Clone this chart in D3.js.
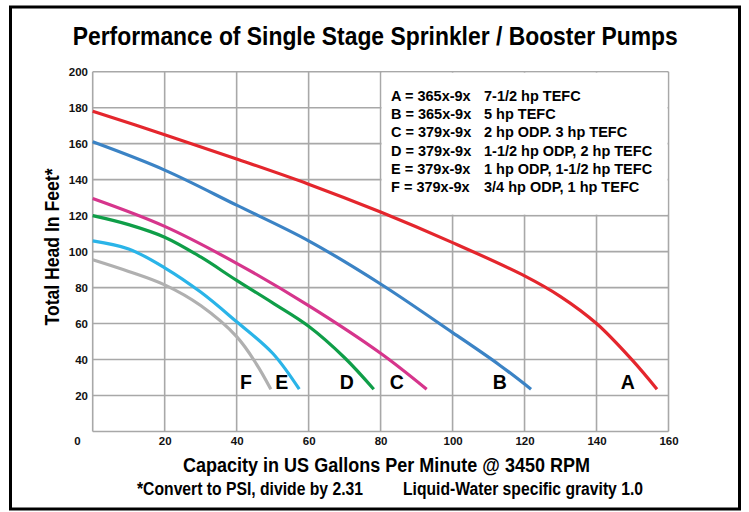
<!DOCTYPE html>
<html>
<head>
<meta charset="utf-8">
<script src="https://cdn.jsdelivr.net/npm/d3@7"></script>
<style>
  body { margin: 0; background: #fff; }
  text { font-family: "Liberation Sans", Arial, sans-serif; }
</style>
</head>
<body>
<script>
// curve readings (gpm, feet)
var capA = [0, 20, 40, 60, 80, 100, 120, 130, 140, 150, 156.8];
var headA = [178, 165, 151.5, 137.5, 122, 105, 86.5, 75, 60, 39.5, 23.5];
var capB = [0, 20, 40, 60, 80, 100, 113, 121.8];
var headB = [161, 145.3, 125.8, 106, 82, 55, 37, 23.5];
var capC = [0, 20, 40, 60, 80, 92.8];
var headC = [129.5, 114, 93.5, 70, 43.5, 23.5];
var capD = [0, 10, 20, 30, 40, 50, 60, 70, 78.1];
var headD = [120, 115, 108, 97, 84, 71.5, 58.5, 41, 23.5];
var capE = [0, 10, 20, 30, 40, 50, 57.4];
var headE = [106, 101.5, 91, 77.5, 61, 43.5, 23.5];
var capF = [0, 10, 20, 30, 40, 45.5, 49.5];
var headF = [95.5, 89, 81.5, 70, 52.7, 37.5, 23.5];

var curveNames = ["A", "B", "C", "D", "E", "F"];
var curveColors = ["#e4262d", "#3b83c5", "#d6358c", "#0f9e48", "#2ab4e8", "#b0b0b0"];
var labelCap = [148.7, 113.1, 84.5, 70.6, 52.5, 42.6];
var labelHead = [23.6, 23.6, 23.6, 23.6, 23.6, 23.6];

var legendModel = ["A = 365x-9x", "B = 365x-9x", "C = 379x-9x", "D = 379x-9x", "E = 379x-9x", "F = 379x-9x"];
var legendMotor = ["7-1/2 hp TEFC", "5 hp TEFC", "2 hp ODP. 3 hp TEFC", "1-1/2 hp ODP, 2 hp TEFC",
  "1 hp ODP, 1-1/2 hp TEFC", "3/4 hp ODP, 1 hp TEFC"];

var xTicks = [20, 40, 60, 80, 100, 120, 140, 160];
var yTicks = [20, 40, 60, 80, 100, 120, 140, 160, 180, 200];

var caps = [capA, capB, capC, capD, capE, capF];
var heads = [headA, headB, headC, headD, headE, headF];

var width = 749, height = 512;

var svg = d3.select("body").append("svg")
  .attr("width", width)
  .attr("height", height);

// outer frame
svg.append("rect")
  .attr("x", 10.5).attr("y", 7)
  .attr("width", 729).attr("height", 502)
  .attr("fill", "none")
  .attr("stroke", "#000")
  .attr("stroke-width", 3);

var x = d3.scaleLinear().domain([0, 160]).range([92.7, 668.5]);
var y = d3.scaleLinear().domain([0, 200]).range([431.5, 71.7]);

// grid
var grid = svg.append("g");
grid.selectAll(".vg")
  .data([0].concat(xTicks))
  .enter().append("line")
  .attr("x1", function(d) { return x(d); })
  .attr("x2", function(d) { return x(d); })
  .attr("y1", y(0)).attr("y2", y(200))
  .attr("stroke", "#a8a8a8").attr("stroke-width", 1.6);
grid.selectAll(".hg")
  .data([0].concat(yTicks))
  .enter().append("line")
  .attr("y1", function(d) { return y(d); })
  .attr("y2", function(d) { return y(d); })
  .attr("x1", x(0)).attr("x2", x(160))
  .attr("stroke", "#a8a8a8").attr("stroke-width", 1.6);

// legend panel covers the top right cells
svg.append("rect")
  .attr("x", x(80) + 1).attr("y", y(200) + 1)
  .attr("width", x(160) - x(80) - 2)
  .attr("height", y(120) - y(200) - 2)
  .attr("fill", "#fff");

var legend = svg.append("g").attr("font-weight", "bold").attr("font-size", 14.5);
legend.selectAll(".lm")
  .data(legendModel)
  .enter().append("text")
  .attr("x", 391)
  .attr("y", function(d, i) { return 100.5 + i * 18.35; })
  .text(function(d) { return d; });
legend.selectAll(".lh")
  .data(legendMotor)
  .enter().append("text")
  .attr("x", 484)
  .attr("y", function(d, i) { return 100.5 + i * 18.35; })
  .text(function(d) { return d; });

// axes tick labels
var xAxis = d3.axisBottom(x).tickValues(xTicks).tickSize(0).tickPadding(0);
svg.append("g")
  .attr("transform", "translate(0," + 445 + ")")
  .call(xAxis)
  .call(function(g) { g.select(".domain").remove(); })
  .selectAll("text")
  .attr("dy", 0)
  .attr("font-size", 11.5).attr("font-weight", "bold")
  .attr("font-family", "Liberation Sans, Arial, sans-serif")
  .attr("fill", "#111");

var yAxis = d3.axisLeft(y).tickValues(yTicks).tickSize(0).tickPadding(0);
svg.append("g")
  .attr("transform", "translate(" + 88 + ",0)")
  .call(yAxis)
  .call(function(g) { g.select(".domain").remove(); })
  .selectAll("text")
  .attr("dy", "0.32em")
  .attr("font-size", 11.5).attr("font-weight", "bold")
  .attr("font-family", "Liberation Sans, Arial, sans-serif")
  .attr("fill", "#111");

svg.append("text")
  .attr("x", 77.5).attr("y", 445)
  .attr("text-anchor", "middle")
  .attr("font-size", 11.5).attr("font-weight", "bold")
  .attr("fill", "#111")
  .text("0");

// pump curves
var line = d3.line()
  .x(function(d) { return x(d[0]); })
  .y(function(d) { return y(d[1]); })
  .curve(d3.curveCatmullRom.alpha(0.5));

svg.selectAll(".curve")
  .data(curveNames)
  .enter().append("path")
  .attr("d", function(d, i) { return line(d3.zip(caps[i], heads[i])); })
  .attr("fill", "none")
  .attr("stroke", function(d, i) { return curveColors[i]; })
  .attr("stroke-width", 3.2);

svg.selectAll(".clab")
  .data(curveNames)
  .enter().append("text")
  .attr("x", function(d, i) { return x(labelCap[i]); })
  .attr("y", function(d, i) { return y(labelHead[i]); })
  .attr("text-anchor", "middle")
  .attr("font-size", 19.5).attr("font-weight", "bold")
  .text(function(d) { return d; });

// titles
svg.append("text")
  .attr("x", 72.7).attr("y", 45)
  .attr("font-size", 25).attr("font-weight", "bold")
  .attr("textLength", 605).attr("lengthAdjust", "spacingAndGlyphs")
  .text("Performance of Single Stage Sprinkler / Booster Pumps");

svg.append("text")
  .attr("x", 183).attr("y", 472)
  .attr("font-size", 20).attr("font-weight", "bold")
  .attr("textLength", 407).attr("lengthAdjust", "spacingAndGlyphs")
  .text("Capacity in US Gallons Per Minute @ 3450 RPM");

svg.append("text")
  .attr("x", 137).attr("y", 495)
  .attr("font-size", 18).attr("font-weight", "bold")
  .attr("textLength", 226).attr("lengthAdjust", "spacingAndGlyphs")
  .text("*Convert to PSI, divide by 2.31");

svg.append("text")
  .attr("x", 403).attr("y", 495)
  .attr("font-size", 18).attr("font-weight", "bold")
  .attr("textLength", 240).attr("lengthAdjust", "spacingAndGlyphs")
  .text("Liquid-Water specific gravity 1.0");

svg.append("text")
  .attr("transform", "translate(59," + 247 + ") rotate(-90)")
  .attr("text-anchor", "middle")
  .attr("font-size", 20).attr("font-weight", "bold")
  .attr("textLength", 157).attr("lengthAdjust", "spacingAndGlyphs")
  .text("Total Head In Feet*");
</script>
</body>
</html>
